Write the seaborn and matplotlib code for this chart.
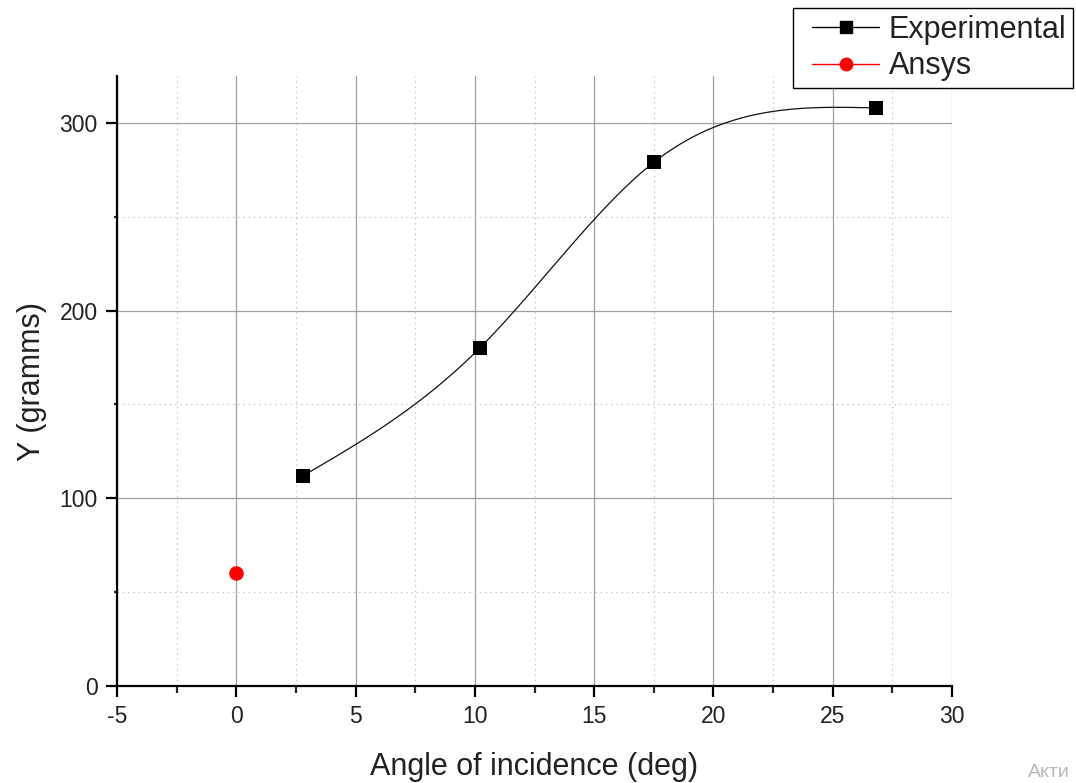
import numpy as np
import pandas as pd
import matplotlib
matplotlib.use("Agg")
import matplotlib.pyplot as plt
from matplotlib.lines import Line2D
from matplotlib.legend_handler import HandlerLine2D
from matplotlib.ticker import MultipleLocator
import seaborn as sns

# ---- data ----
exp_angle = [2.8, 10.2, 17.5, 26.8]
exp_grams = [112, 180, 279, 308]
ansys_angle = [0]
ansys_grams = [60]
x_ticks = [-5, 0, 5, 10, 15, 20, 25, 30]
y_ticks = [0, 100, 200, 300]


def natural_spline(x, y, n=300):
    x = np.asarray(x, float)
    y = np.asarray(y, float)
    k = len(x)
    h = np.diff(x)
    A = np.zeros((k, k))
    b = np.zeros(k)
    A[0, 0] = A[-1, -1] = 1
    for i in range(1, k - 1):
        A[i, i - 1] = h[i - 1]
        A[i, i] = 2 * (h[i - 1] + h[i])
        A[i, i + 1] = h[i]
        b[i] = 6 * ((y[i + 1] - y[i]) / h[i] - (y[i] - y[i - 1]) / h[i - 1])
    M = np.linalg.solve(A, b)
    xs = np.linspace(x[0], x[-1], n)
    idx = np.clip(np.searchsorted(x, xs) - 1, 0, k - 2)
    x0, x1 = x[idx], x[idx + 1]
    hh = x1 - x0
    ys = (M[idx] * (x1 - xs) ** 3 / (6 * hh) + M[idx + 1] * (xs - x0) ** 3 / (6 * hh)
          + (y[idx] / hh - M[idx] * hh / 6) * (x1 - xs)
          + (y[idx + 1] / hh - M[idx + 1] * hh / 6) * (xs - x0))
    return xs, ys


sns.set_style("white")
plt.rcParams['font.family'] = ['Liberation Sans', 'DejaVu Sans']
plt.rcParams['axes.unicode_minus'] = False

fig = plt.figure(figsize=(10.76, 7.83), dpi=100)
ax = fig.add_axes([117 / 1076, 1 - 686 / 783, 835 / 1076, 610 / 783])

sx, sy = natural_spline(exp_angle, exp_grams)
curve = pd.DataFrame({"x": sx, "y": sy})
exp_df = pd.DataFrame({"x": exp_angle, "y": exp_grams})
ans_df = pd.DataFrame({"x": ansys_angle, "y": ansys_grams})

sns.lineplot(data=curve, x="x", y="y", ax=ax, color="#111111", linewidth=0.9,
             estimator=None, sort=False, zorder=3)
sns.scatterplot(data=exp_df, x="x", y="y", ax=ax, marker="s", s=105, color="black",
                edgecolor="black", linewidth=0, zorder=4)
sns.scatterplot(data=ans_df, x="x", y="y", ax=ax, marker="o", s=110, color="#ff0000",
                edgecolor="#ff0000", linewidth=0, zorder=4)

ax.set_xlim(-5, 30)
ax.set_ylim(0, 325)
ax.set_xticks(x_ticks)
ax.set_yticks(y_ticks)
ax.xaxis.set_minor_locator(MultipleLocator(2.5))
ax.yaxis.set_minor_locator(MultipleLocator(50))

ax.grid(which="major", color="#a0a0a0", linewidth=0.9, linestyle="-")
ax.grid(which="minor", color="#c4c4c4", linewidth=0.9, linestyle=(0, (1.2, 3)))
ax.set_axisbelow(True)

for s in ["top", "right"]:
    ax.spines[s].set_visible(False)
for s in ["left", "bottom"]:
    ax.spines[s].set_linewidth(1.6)
    ax.spines[s].set_color("black")

ax.tick_params(which="major", direction="out", length=8, width=1.6, color="black",
               labelsize=16.5, pad=6, bottom=True, left=True, labelcolor="#222222")
ax.tick_params(axis="x", which="minor", direction="out", length=5, width=1.6, bottom=True)
ax.tick_params(axis="y", which="minor", direction="out", length=2.5, width=1.6, left=True)

ax.set_xlabel("Angle of incidence (deg)", fontsize=22, color="#222222")
ax.set_ylabel("Y (gramms)", fontsize=22, color="#222222")
ax.xaxis.set_label_coords(0.5, -0.108)
ax.yaxis.set_label_coords(-0.084, 0.5)

handles = [
    Line2D([], [], color="black", linewidth=1.0, marker="s", markersize=8.5,
           markerfacecolor="black", markeredgecolor="black"),
    Line2D([], [], color="#ff0000", linewidth=1.0, marker="o", markersize=9,
           markerfacecolor="#ff0000", markeredgecolor="#ff0000"),
]
leg = fig.legend(handles, ["Experimental", "Ansys"], loc="upper right",
                 bbox_to_anchor=(1073 / 1076, 1 - 8 / 783), fontsize=22,
                 frameon=True, fancybox=False, edgecolor="black", framealpha=1,
                 handlelength=2.62, handletextpad=0.3, borderpad=0.22,
                 labelspacing=0.22, borderaxespad=0,
                 handler_map={Line2D: HandlerLine2D(xpad=0.4)})
leg.get_frame().set_linewidth(1.0)
for t in leg.get_texts():
    t.set_color("#222222")

fig.text(1028 / 1076, 1 - 781 / 783, "Акти", fontsize=14, color="#b8b8b8",
         ha="left", va="bottom")

fig.savefig("out.png", dpi=100)
